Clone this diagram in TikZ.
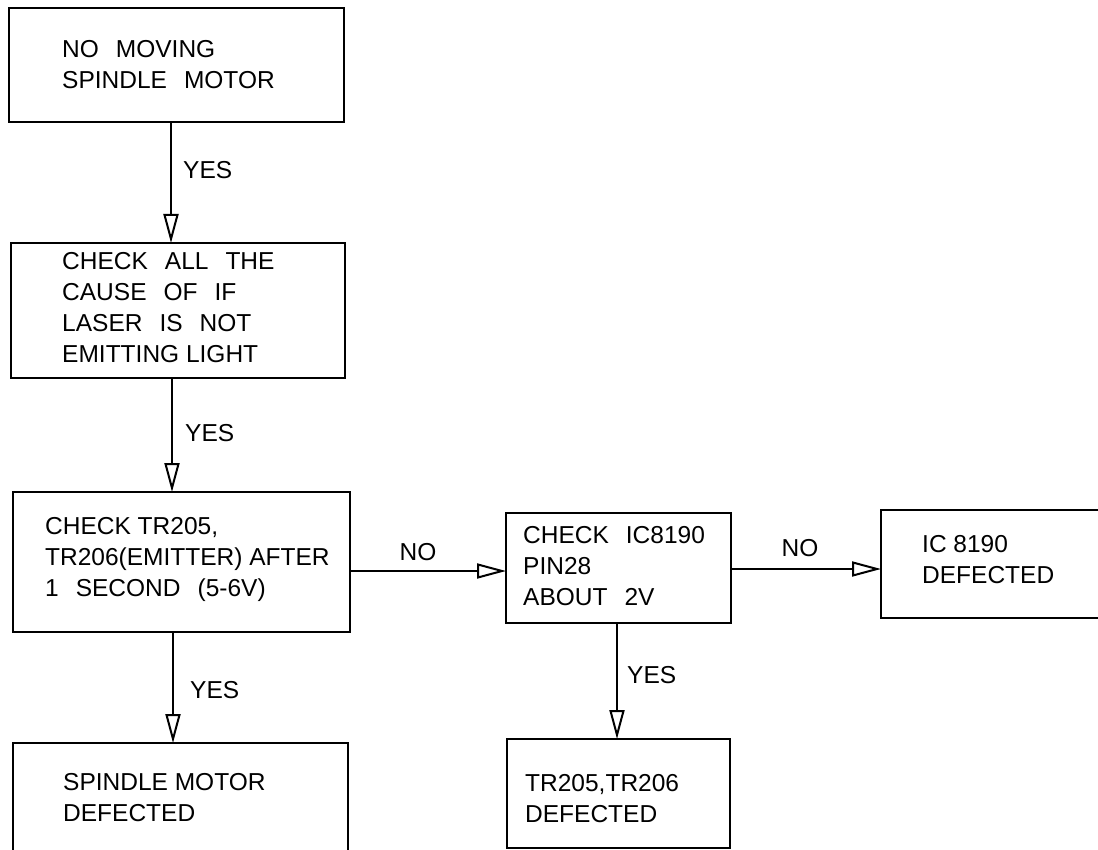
\documentclass[tikz,border=0pt]{standalone}
\usepackage{fontspec}
\setmainfont{Liberation Sans}
\usetikzlibrary{arrows.meta}
\newcommand{\wsp}{\hspace*{17pt}}
\tikzset{
  box/.style={draw, line width=2.6pt, inner sep=0pt, outer sep=0pt, anchor=north west},
  txt/.style={anchor=west, align=left, inner sep=0pt, font=\fontsize{24.5}{31}\selectfont},
  lbl/.style={inner sep=0pt, font=\fontsize{24.5}{31}\selectfont},
  conn/.style={line width=2pt, -{Triangle[open, length=29pt, width=15pt, line width=2pt]}}
}
\begin{document}
\begin{tikzpicture}[x=1pt, y=-1pt]
\useasboundingbox (0,0) rectangle (1098,850);
\clip (0,0) rectangle (1098,850);
% boxes
\node[box, minimum width=335pt, minimum height=114pt] (b1) at (9,8) {};
\node[box, minimum width=334pt, minimum height=135pt] (b2) at (11,243) {};
\node[box, minimum width=337pt, minimum height=140pt] (b3) at (13,492) {};
\node[box, minimum width=335pt, minimum height=120pt] (b4) at (13,743) {};
\node[box, minimum width=225pt, minimum height=110pt] (b5) at (506,513) {};
\node[box, minimum width=223pt, minimum height=109pt] (b6) at (507,739) {};
\node[box, minimum width=240pt, minimum height=108pt] (b7) at (881,510) {};
% texts
\node[txt] (t1) at (62,65) {NO\wsp{}MOVING\\SPINDLE\wsp{}MOTOR};
\node[txt] (t2) at (62,308) {CHECK\wsp{}ALL\wsp{}THE\\CAUSE\wsp{}OF\wsp{}IF\\LASER\wsp{}IS\wsp{}NOT\\EMITTING LIGHT};
\node[txt] (t3) at (45,559) {CHECK TR205,\\TR206(EMITTER) AFTER\\1\wsp{}SECOND\wsp{}(5-6V)};
\node[txt] (t4) at (63,798) {SPINDLE MOTOR\\DEFECTED};
\node[txt] (t5) at (523,566) {CHECK\wsp{}IC8190\\PIN28\\ABOUT\wsp{}2V};
\node[txt] (t6) at (525,799) {TR205,TR206\\DEFECTED};
\node[txt] (t7) at (922,560) {IC 8190\\DEFECTED};
% connectors
\draw[conn] (171,0 |- b1.south) -- (171,0 |- b2.north);
\draw[conn] (172,0 |- b2.south) -- (172,0 |- b3.north);
\draw[conn] (173,0 |- b3.south) -- (173,0 |- b4.north);
\draw[conn] (b3.east |- 0,571) -- (b5.west |- 0,571);
\draw[conn] (617,0 |- b5.south) -- (617,0 |- b6.north);
\draw[conn] (b5.east |- 0,569) -- (b7.west |- 0,569);
% labels
\node[lbl, anchor=west] (y1) at (183,170) {YES};
\node[lbl, anchor=west] (y2) at (185,433) {YES};
\node[lbl, anchor=west] (y3) at (190,690) {YES};
\node[lbl, anchor=west] (y4) at (627,675) {YES};
\node[lbl] (n1) at (418,552) {NO};
\node[lbl] (n2) at (800,548) {NO};
\end{tikzpicture}
\end{document}
